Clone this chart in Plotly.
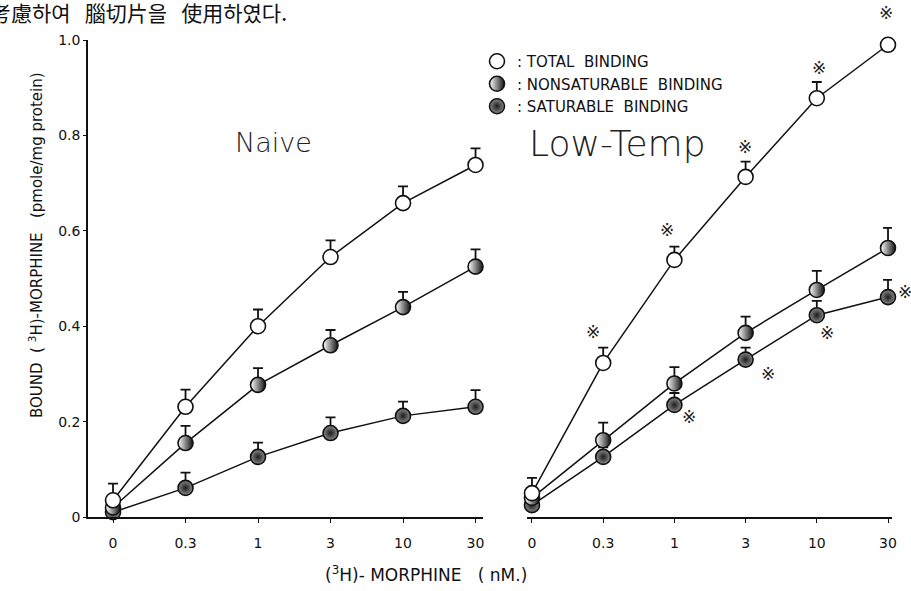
import plotly.graph_objects as go

# (3H)-morphine concentration (nM), shared by both panels
conc = ["0", "0.3", "1", "3", "10", "30"]

# Naive group: bound (pmole/mg protein) and upper SEM
naive_total = [0.035, 0.231, 0.40, 0.545, 0.658, 0.738]
naive_total_err = [0.035, 0.036, 0.035, 0.035, 0.035, 0.035]
naive_nonsat = [0.02, 0.155, 0.277, 0.36, 0.44, 0.525]
naive_nonsat_err = [0.0, 0.036, 0.035, 0.032, 0.032, 0.036]
naive_sat = [0.01, 0.061, 0.126, 0.176, 0.212, 0.231]
naive_sat_err = [0.0, 0.032, 0.03, 0.033, 0.03, 0.035]

# Low-temperature group
low_total = [0.05, 0.323, 0.539, 0.713, 0.878, 0.99]
low_total_err = [0.032, 0.032, 0.028, 0.032, 0.034, 0.036]
low_nonsat = [0.04, 0.161, 0.28, 0.386, 0.476, 0.564]
low_nonsat_err = [0.0, 0.037, 0.034, 0.034, 0.04, 0.042]
low_sat = [0.025, 0.126, 0.235, 0.33, 0.423, 0.461]
low_sat_err = [0.0, 0.02, 0.025, 0.025, 0.03, 0.036]

# significance marks on the low-temp curves (category index)
star_total_idx = [1, 2, 3, 4, 5]
star_sat_idx = [2, 3, 4, 5]

y_ticks = [0, 0.2, 0.4, 0.6, 0.8, 1.0]
y_ticktext = ["0", "0.2", "0.4", "0.6", "0.8", "1.0"]

W, H = 911, 591
BLACK = "#111111"

MARK_TOTAL = dict(symbol="circle", size=15, color="white",
                  line=dict(color=BLACK, width=1.6))
MARK_NONSAT = dict(symbol="circle", size=15, color="white",
                   gradient=dict(type="horizontal", color="#111111"),
                   line=dict(color=BLACK, width=1.6))
MARK_SAT = dict(symbol="circle", size=15, color="#8a8a8a",
                gradient=dict(type="radial", color="#1c1c1c"),
                line=dict(color=BLACK, width=1.6))


def series(x, y, err, marker, xa, ya):
    return go.Scatter(
        x=x, y=y, mode="lines+markers", xaxis=xa, yaxis=ya,
        line=dict(color=BLACK, width=1.5),
        marker=marker,
        error_y=dict(type="data", array=err, arrayminus=[0] * len(err),
                     symmetric=False, color=BLACK, thickness=1.8, width=5),
        cliponaxis=False, showlegend=False, hoverinfo="x+y",
    )


fig = go.Figure()
for xa, ya, tot, tot_e, ns, ns_e, st, st_e in [
    ("x", "y", naive_total, naive_total_err, naive_nonsat, naive_nonsat_err,
     naive_sat, naive_sat_err),
    ("x2", "y2", low_total, low_total_err, low_nonsat, low_nonsat_err,
     low_sat, low_sat_err),
]:
    fig.add_trace(series(conc, st, st_e, MARK_SAT, xa, ya))
    fig.add_trace(series(conc, ns, ns_e, MARK_NONSAT, xa, ya))
    fig.add_trace(series(conc, tot, tot_e, MARK_TOTAL, xa, ya))

# legend keys
for name, mk in [(": TOTAL  BINDING", MARK_TOTAL),
                 (": NONSATURABLE  BINDING", MARK_NONSAT),
                 (": SATURABLE  BINDING", MARK_SAT)]:
    fig.add_trace(go.Scatter(x=[None], y=[None], mode="markers", marker=mk,
                             name=name, xaxis="x2", yaxis="y2"))


def px_x(p):
    return p / W


def px_y(p):
    return 1 - p / H


y_dom = [px_y(517), px_y(40)]
TICK_FONT = dict(family="DejaVu Sans, sans-serif", size=14, color=BLACK)
LABEL_FAMILY = "DejaVu Sans, sans-serif"

fig.update_layout(
    width=W, height=H,
    margin=dict(l=0, r=0, t=0, b=0),
    paper_bgcolor="white", plot_bgcolor="white",
    font=dict(family=LABEL_FAMILY, color=BLACK),
    xaxis=dict(domain=[px_x(88), px_x(483)], type="category",
               categoryorder="array", categoryarray=conc,
               range=[-0.345, 5.103], showline=True, linecolor=BLACK,
               linewidth=1.6, ticks="outside", ticklen=4, tickwidth=1.2,
               tickcolor=BLACK, tickfont=TICK_FONT, ticklabelstandoff=8,
               showgrid=False, zeroline=False, anchor="y", automargin=False),
    yaxis=dict(domain=y_dom, range=[0, 1.0], tickvals=y_ticks,
               ticktext=y_ticktext, showline=True, linecolor=BLACK,
               linewidth=1.6, ticks="outside", ticklen=3, tickwidth=1.2,
               tickcolor=BLACK, tickfont=TICK_FONT, ticklabelstandoff=0,
               showgrid=False, zeroline=False, anchor="x", automargin=False),
    xaxis2=dict(domain=[px_x(527), px_x(892)], type="category",
                categoryorder="array", categoryarray=conc,
                range=[-0.07, 5.056], showline=True, linecolor=BLACK,
                linewidth=1.6, ticks="outside", ticklen=4, tickwidth=1.2,
                tickcolor=BLACK, tickfont=TICK_FONT, ticklabelstandoff=8,
                showgrid=False, zeroline=False, anchor="y2", automargin=False),
    yaxis2=dict(domain=y_dom, range=[0, 1.0], showline=False,
                showticklabels=False, ticks="", showgrid=False,
                zeroline=False, anchor="x2", automargin=False),
    legend=dict(x=px_x(477), y=px_y(45), xanchor="left", yanchor="top",
                bgcolor="rgba(0,0,0,0)", borderwidth=0, tracegroupgap=0,
                itemwidth=30,
                font=dict(family=LABEL_FAMILY, size=15, color=BLACK)),
    showlegend=True,
)

annotations = []
# significance marks
star_font = dict(family="DejaVu Sans, sans-serif", size=17, color="#222222")
total_shift = {1: (-10, 31), 2: (-7, 30), 3: (-1, 30), 4: (2, 30), 5: (-2, 32)}
sat_shift = {2: (15, -12), 3: (22, -14), 4: (10, -18), 5: (17, 5)}
for i in star_total_idx:
    dx, dy = total_shift[i]
    annotations.append(dict(x=i, y=low_total[i], xref="x2", yref="y2",
                            text="※", showarrow=False, xshift=dx, yshift=dy,
                            xanchor="center", yanchor="middle", font=star_font))
for i in star_sat_idx:
    dx, dy = sat_shift[i]
    annotations.append(dict(x=i, y=low_sat[i], xref="x2", yref="y2",
                            text="※", showarrow=False, xshift=dx, yshift=dy,
                            xanchor="center", yanchor="middle", font=star_font))


def paper_text(x, y, text, size, family=LABEL_FAMILY, angle=0,
               xanchor="center", weight=None, color=BLACK):
    f = dict(family=family, size=size, color=color)
    if weight is not None:
        f["weight"] = weight
    return dict(x=px_x(x), y=px_y(y), xref="paper", yref="paper", text=text,
                showarrow=False, xanchor=xanchor, yanchor="middle",
                textangle=angle, font=f)


# panel names
annotations.append(paper_text(233, 142, "Naive", 27, xanchor="left",
                              family="DejaVu Sans ExtraLight, DejaVu Sans, sans-serif",
                              weight=200, color="#222222"))
annotations.append(paper_text(527, 143, "Low-Temp", 36, xanchor="left",
                              family="DejaVu Sans ExtraLight, DejaVu Sans, sans-serif",
                              weight=200, color="#222222"))

# axis titles
annotations.append(paper_text(36, 245,
                              "BOUND  ( <sup>3</sup>H)-MORPHINE   (pmole/mg protein)",
                              15, angle=-90))
annotations.append(paper_text(426, 574,
                              "(<sup>3</sup>H)- MORPHINE   ( nM.)", 17))

# running text above the figure
annotations.append(paper_text(-12, 12, "考慮하여   腦切片을   使用하였다.", 21,
                              family="Noto Sans CJK KR, sans-serif",
                              xanchor="left"))

fig.update_layout(annotations=annotations)
fig.write_html("out.html")
